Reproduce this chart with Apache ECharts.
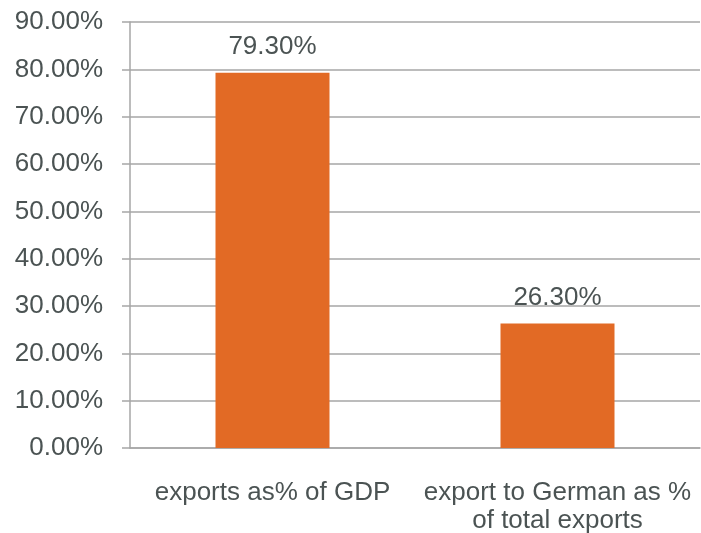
<!DOCTYPE html>
<html>
<head>
<meta charset="utf-8">
<script src="https://cdn.jsdelivr.net/npm/echarts@6/dist/echarts.min.js"></script>
<style>
html, body { margin: 0; padding: 0; background: #fff; }
#chart { width: 701px; height: 533px; }
</style>
</head>
<body>
<div id="chart"></div>
<script>
var categories = ['exports as% of GDP', 'export to German as %\nof total exports'];
var values = [79.3, 26.3];

var gridColor = '#a6a6a6';
var textColor = '#4b5353';
var font = 'Liberation Sans, Arial, sans-serif';

var chart = echarts.init(document.getElementById('chart'));
chart.setOption({
	animation: false,
	grid: { left: 130, right: 1, top: 22, bottom: 85, outerBoundsMode: 'none' },
	xAxis: {
		type: 'category',
		data: categories,
		axisLine: { lineStyle: { color: gridColor, width: 1.5 } },
		axisTick: { length: 8, lineStyle: { color: gridColor, width: 1.5 } },
		axisLabel: {
			interval: 0, hideOverlap: false,
			color: textColor, fontSize: 26, fontFamily: font, margin: 31, lineHeight: 28
		}
	},
	yAxis: {
		type: 'value',
		min: 0,
		max: 90,
		interval: 10,
		axisLine: { show: true, lineStyle: { color: gridColor, width: 1.5 } },
		axisTick: { show: true, length: 8, lineStyle: { color: gridColor, width: 1.5 } },
		splitLine: { lineStyle: { color: gridColor, width: 1.5 } },
		axisLabel: {
			color: textColor, fontSize: 26, fontFamily: font, margin: 27,
			formatter: function (v) { return v.toFixed(2) + '%'; }
		}
	},
	series: [{
		type: 'bar',
		data: values,
		barWidth: '40%',
		itemStyle: { color: '#e26a25' },
		label: {
			show: true,
			position: 'top',
			distance: 13,
			color: textColor,
			fontSize: 26,
			fontFamily: font,
			formatter: function (p) { return p.value.toFixed(2) + '%'; }
		}
	}]
});
</script>
</body>
</html>
